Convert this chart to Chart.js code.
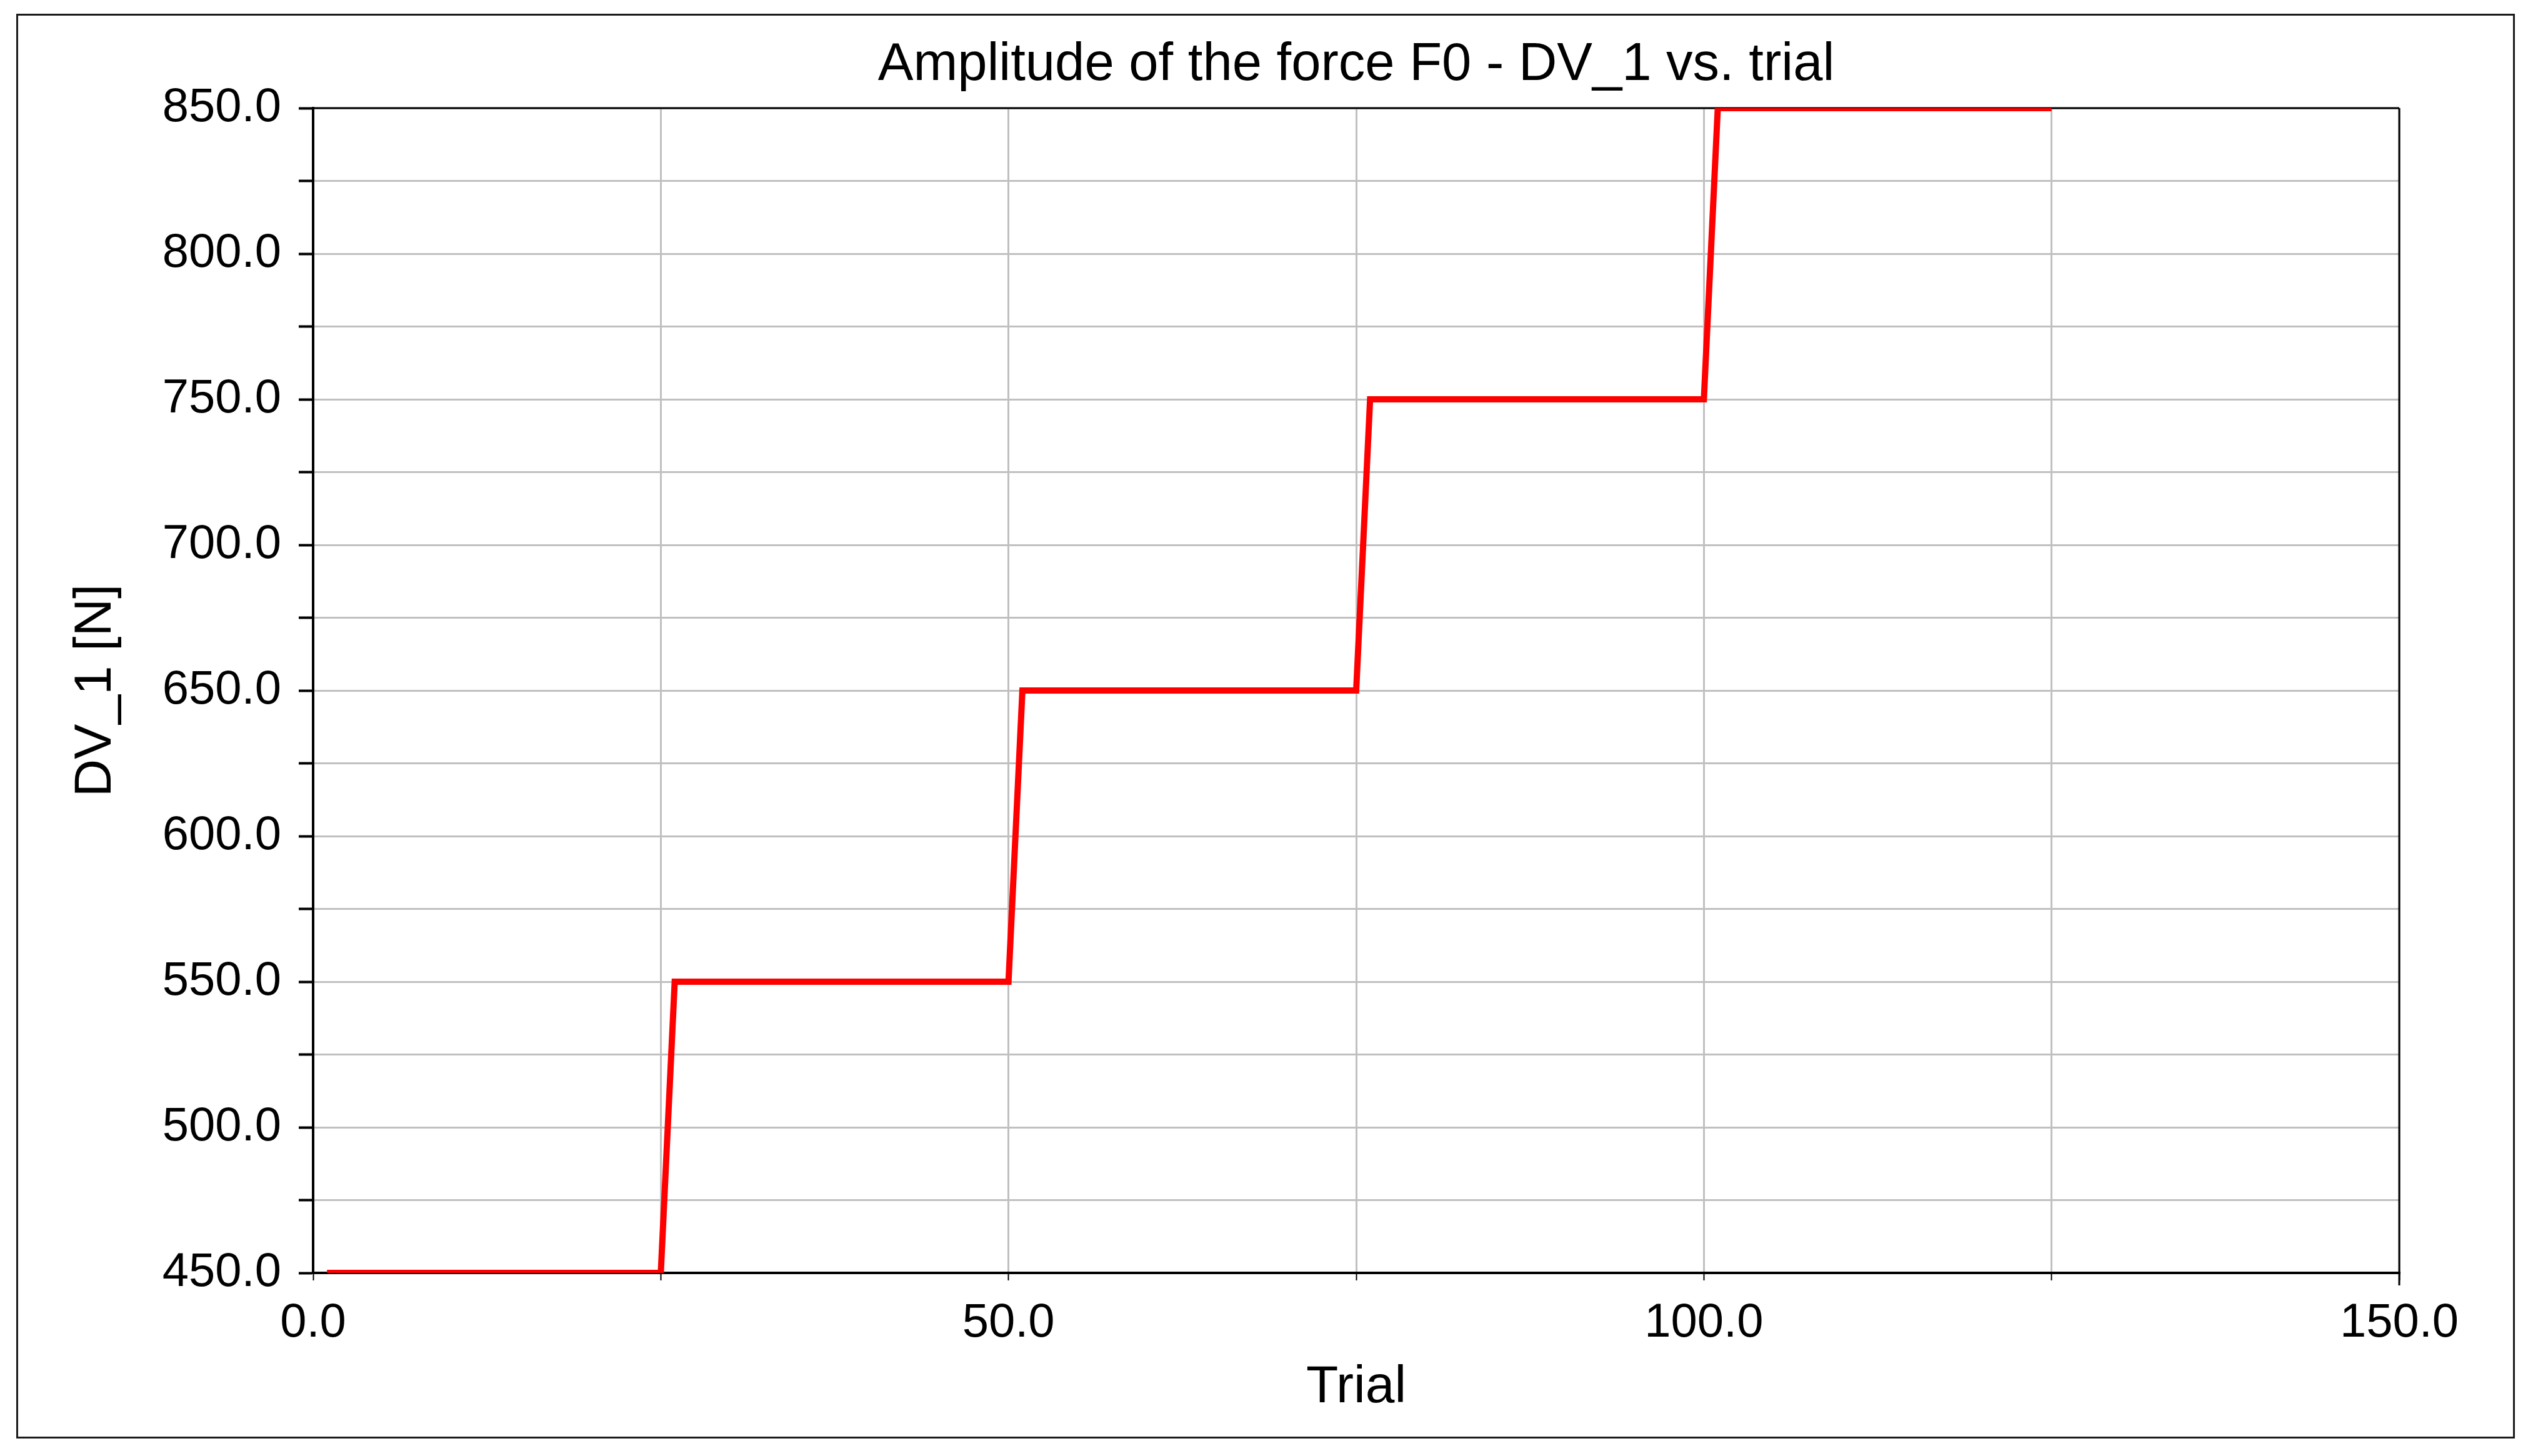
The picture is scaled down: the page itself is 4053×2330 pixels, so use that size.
<!DOCTYPE html>
<html>
<head>
<meta charset="utf-8">
<script src="https://cdn.jsdelivr.net/npm/chart.js@4.4.1/dist/chart.umd.min.js"></script>
<style>
html,body{margin:0;padding:0;background:#fff;}
#wrap{position:relative;width:4053px;height:2330px;}
#frame{position:absolute;left:26px;top:22px;width:3998px;height:2280px;border:3px solid #1a1a1a;box-sizing:border-box;pointer-events:none;}
</style>
</head>
<body>
<div id="wrap">
<canvas id="chart"></canvas>
<div id="frame"></div>
</div>
<script>
// step corners of DV_1 per trial
const trials = [1, 25, 26, 50, 51, 75, 76, 100, 101, 125];
const dv1 = [450, 450, 550, 550, 650, 650, 750, 750, 850, 850];

const xLabelled = [0, 50, 100, 150];
const yLabelled = [450, 500, 550, 600, 650, 700, 750, 800, 850];

const FONT = "'Liberation Sans', Arial, sans-serif";

// top and right edges of the plot box
const plotBox = {
id:"plotBox",
beforeDatasetsDraw(chart){
const a = chart.chartArea, c = chart.ctx;
c.save();
c.strokeStyle = "#000";
c.lineWidth = 3;
c.beginPath();
c.moveTo(a.left, a.top);
c.lineTo(a.right, a.top);
c.stroke();
c.beginPath();
c.moveTo(a.right, a.top);
c.lineTo(a.right, a.bottom + 20);
c.stroke();
c.restore();
}
};

new Chart(
document.getElementById("chart"),
{
type:"line",
data:{
datasets:[{
label:"DV_1",
data:trials.map((t, i) => ({x:t, y:dv1[i]})),
borderColor:"#ff0000",
borderWidth:10,
pointRadius:0,
tension:0
}]
},
options:{
responsive:true,
maintainAspectRatio:false,
animation:false,
layout:{padding:{left:0, right:214, top:0, bottom:0}},
plugins:{
legend:{display:false},
tooltip:{enabled:false},
title:{
display:true,
fullSize:false,
text:"Amplitude of the force F0 - DV_1 vs. trial",
color:"#000",
font:{family:FONT, size:85, weight:"normal"},
padding:{top:54, bottom:17}
}
},
scales:{
x:{
type:"linear",
min:0,
max:150,
afterFit(s){ s.height = 293; },
ticks:{
stepSize:25,
color:"#000",
padding:23,
maxRotation:0,
autoSkip:false,
font:{family:FONT, size:76},
callback:v => xLabelled.includes(v) ? v.toFixed(1) : ""
},
grid:{color:"#c0c0c0", lineWidth:3, tickColor:"#000", tickWidth:2, tickLength:12},
border:{color:"#000", width:4},
title:{
display:true,
text:"Trial",
color:"#000",
font:{family:FONT, size:84},
padding:{top:0, bottom:59}
}
},
y:{
min:450,
max:850,
afterFit(s){ s.width = 501; },
ticks:{
stepSize:25,
color:"#000",
padding:28,
autoSkip:false,
font:{family:FONT, size:76},
callback:v => yLabelled.includes(v) ? v.toFixed(1) : ""
},
grid:{color:"#c0c0c0", lineWidth:3, tickColor:"#000", tickWidth:4, tickLength:23},
border:{color:"#000", width:4},
title:{
display:true,
text:"DV_1 [N]",
color:"#000",
font:{family:FONT, size:84},
padding:{top:103, bottom:0}
}
}
}
},
plugins:[plotBox]
});
</script>
</body>
</html>
